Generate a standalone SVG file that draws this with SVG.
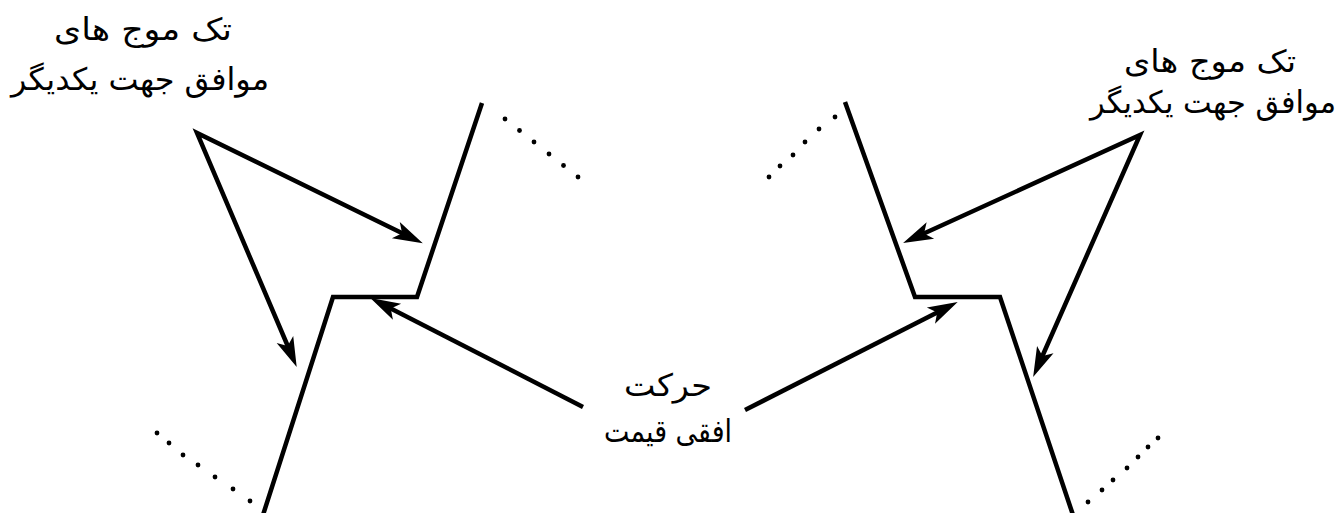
<svg xmlns="http://www.w3.org/2000/svg" width="1344" height="513" viewBox="0 0 1344 513">
<style>
.ln{fill:none;stroke:#000;stroke-width:4.5;stroke-linejoin:miter;stroke-miterlimit:20}
.ar{fill:none;stroke:#000;stroke-width:4.5;stroke-linejoin:miter;stroke-miterlimit:30;marker-end:url(#ah)}
.ar2{marker-start:url(#ah)}
.dt{fill:#000}
.tx{font-family:"DejaVu Sans",sans-serif;font-size:31px;fill:#000;text-anchor:middle;direction:rtl}
</style>
<defs>
<marker id="ah" markerUnits="userSpaceOnUse" orient="auto-start-reverse" refX="0" refY="0" markerWidth="40" markerHeight="40" overflow="visible">
<path d="M12,0 L-18,-9 L-11,0 L-18,9 Z" fill="#000"/>
</marker>
</defs>
<g id="zigzag-left"><polyline class="ln" points="482,103 417,297 333,297 263,515"/></g>
<g id="zigzag-right"><polyline class="ln" points="845,102 915,297 1000,297 1073,515"/></g>
<g id="dots">
<circle class="dt" cx="505" cy="119" r="2.4"/><circle class="dt" cx="519.5" cy="130.5" r="2.4"/><circle class="dt" cx="534" cy="142" r="2.4"/><circle class="dt" cx="549" cy="154" r="2.4"/><circle class="dt" cx="563.5" cy="165.5" r="2.4"/><circle class="dt" cx="578" cy="177" r="2.4"/>
<circle class="dt" cx="157" cy="433" r="2.4"/><circle class="dt" cx="169" cy="443" r="2.4"/><circle class="dt" cx="183" cy="455" r="2.4"/><circle class="dt" cx="198" cy="465" r="2.4"/><circle class="dt" cx="215" cy="477" r="2.4"/><circle class="dt" cx="233" cy="489" r="2.4"/><circle class="dt" cx="250" cy="501" r="2.4"/>
<circle class="dt" cx="835" cy="117" r="2.4"/><circle class="dt" cx="819" cy="129" r="2.4"/><circle class="dt" cx="805" cy="142" r="2.4"/><circle class="dt" cx="793" cy="155" r="2.4"/><circle class="dt" cx="780" cy="166" r="2.4"/><circle class="dt" cx="769" cy="177" r="2.4"/>
<circle class="dt" cx="1158" cy="438" r="2.4"/><circle class="dt" cx="1148" cy="447" r="2.4"/><circle class="dt" cx="1138" cy="457" r="2.4"/><circle class="dt" cx="1127" cy="468" r="2.4"/><circle class="dt" cx="1113" cy="480" r="2.4"/><circle class="dt" cx="1102" cy="490" r="2.4"/><circle class="dt" cx="1088" cy="502" r="2.4"/>
</g>
<g id="connectors">
<path class="ar ar2" d="M412,238 L197,133 L292,356"/>
<path class="ar" d="M583,407 L381,303.5"/>
<path class="ar ar2" d="M914,238 L1140,135 L1038,366"/>
<path class="ar" d="M745,410 L947,307.5"/>
</g>
<g id="label-left">
<text class="tx" x="143" y="40" textLength="178" lengthAdjust="spacingAndGlyphs">تک موج های</text>
<text class="tx" x="140" y="90" textLength="258" lengthAdjust="spacingAndGlyphs">موافق جهت یکدیگر</text>
</g>
<g id="label-right">
<text class="tx" x="1210" y="72" textLength="172" lengthAdjust="spacingAndGlyphs">تک موج های</text>
<text class="tx" x="1213" y="113" textLength="246" lengthAdjust="spacingAndGlyphs">موافق جهت یکدیگر</text>
</g>
<g id="label-center">
<text class="tx" x="668" y="396" textLength="88" lengthAdjust="spacingAndGlyphs">حرکت</text>
<text class="tx" x="668" y="442" textLength="128" lengthAdjust="spacingAndGlyphs">افقی قیمت</text>
</g>
</svg>
